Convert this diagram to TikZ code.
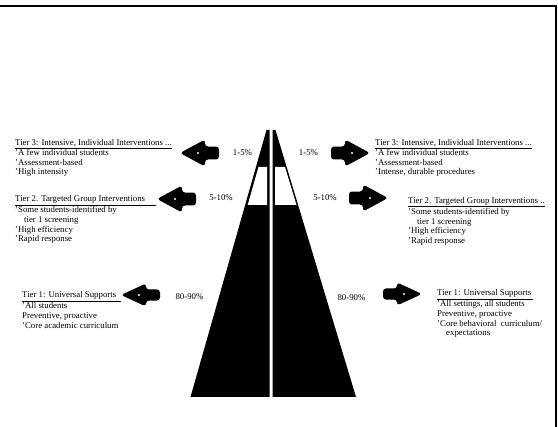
\documentclass[tikz,border=0pt]{standalone}
\usepackage{fontspec}
\setmainfont{Liberation Serif}
\usetikzlibrary{positioning}

% block arrow: centre x, centre y, direction (1 or -1), half height of head
\newcommand{\tierarrow}[4]{%
  \begin{scope}[shift={(#1,#2)}, xscale=#3]
    \fill[rounded corners=3pt] (-19,{-0.48*#4}) -- (-5,{-0.48*#4}) -- (-5,-#4)
      -- (20,0) -- (-5,#4) -- (-5,{0.48*#4}) -- (-19,{0.48*#4}) -- cycle;
    \fill[white] (2,0) circle (1.1);
  \end{scope}}

\begin{document}
\begin{tikzpicture}[x=1pt, y=-1pt,
            every node/.style={inner sep=0pt, font=\fontsize{8.8}{9.7}\selectfont},
            tierblock/.style={anchor=north west, align=left},
            pct/.style={anchor=center}]
  \useasboundingbox (0,0) rectangle (558,427);
  % frame
  \draw[line width=2pt] (0,6.5) -- (555.5,6.5) -- (555.5,427);

  % pyramid, two halves
  \fill (266.5,130) -- (269.5,130) -- (269.5,397) -- (190.5,397) -- cycle;
  \fill (272.5,130) -- (275.5,130) -- (356,397) -- (272.5,397) -- cycle;
  \fill[white] (258.5,167) -- (267,167) -- (267,205) -- (247.7,205) -- cycle;
  \fill[white] (275,167) -- (285,167) -- (296.5,205) -- (275,205) -- cycle;

  % arrows
  \tierarrow{200}{153}{-1}{13.5}
  \tierarrow{177}{199}{-1}{13.5}
  \tierarrow{141}{295}{-1}{11.5}
  \tierarrow{350}{153}{1}{13.5}
  \tierarrow{368}{198}{1}{13.5}
  \tierarrow{402}{294}{1}{11.5}

  % percentages
  \node[pct] (pctl3) at (242.5,153) {1-5\%};
  \node[pct] (pctl2) at (221,198) {5-10\%};
  \node[pct] (pctl1) at (189.5,297) {80-90\%};
  \node[pct] (pctr3) at (308.5,153) {1-5\%};
  \node[pct] (pctr2) at (325,198) {5-10\%};
  \node[pct] (pctr1) at (351.5,298) {80-90\%};

  % left side: academic
  \node[tierblock] (acad3) at (15,139.5)
    {\underline{Tier 3: Intensive, Individual Interventions ...}\\
     'A few individual students\\
     'Assessment-based\\
     'High intensity};
  \node[tierblock] (acad2) at (15,195.5)
    {\underline{Tier 2. Targeted Group Interventions\hspace{11pt}}\\
     'Some students-identified by\\
     \hspace*{9pt}tier 1 screening\\
     'High efficiency\\
     'Rapid response};
  \node[tierblock] (acad1) at (22,291.5)
    {\underline{Tier 1: Universal Supports\hspace{5pt}}\\
     'All students\\
     Preventive,\ proactive\\
     'Core academic curriculum};

  % right side: behavioral
  \node[tierblock] (behav3) at (375,139.5)
    {\underline{Tier 3: Intensive, Individual Interventions ...}\\
     'A few individual students\\
     'Assessment-based\\
     'Intense, durable procedures};
  \node[tierblock] (behav2) at (408,197)
    {\underline{Tier 2. Targeted Group Interventions ..}\\
     'Some students-identified by\\
     \hspace*{9pt}tier 1 screening\\
     'High efficiency\\
     'Rapid response};
  \node[tierblock] (behav1) at (437,289.5)
    {\underline{Tier 1: Universal Supports\ }\\
     'All settings, all students\\
     Preventive,\ proactive\\
     'Core behavioral\ \ curriculum/\\
     \hspace*{9pt}expectations};
\end{tikzpicture}
\end{document}
